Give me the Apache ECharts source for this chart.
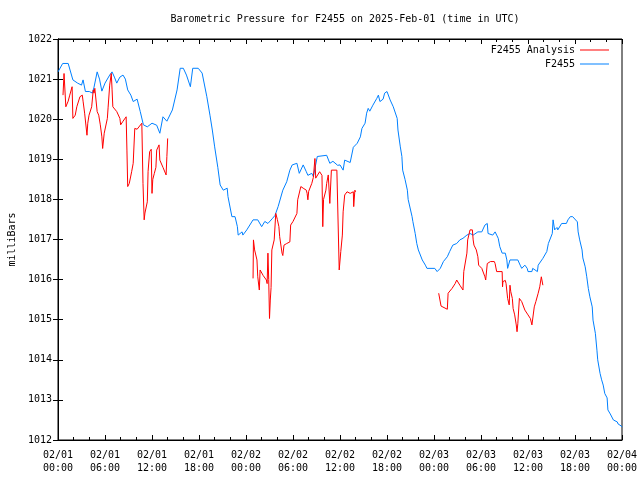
<!DOCTYPE html>
<html>
<head>
<meta charset="utf-8">
<script src="https://cdn.jsdelivr.net/npm/echarts@6/dist/echarts.min.js"></script>
<style>html,body{margin:0;padding:0;background:#fff}#c{width:640px;height:480px}</style>
</head>
<body>
<div id="c"></div>
<script>
// Hours since 2025-02-01 00:00 UTC
const stationHours = [0.0,0.6,1.3,1.9,2.5,3.0,3.2,3.5,4.0,4.4,4.6,5.0,5.3,5.6,6.0,6.6,6.9,7.2,7.5,7.9,8.3,8.6,8.9,9.3,9.6,10.1,10.5,10.9,11.4,12.0,12.6,13.0,13.4,13.9,14.6,15.2,15.6,16.0,16.4,16.9,17.2,17.9,18.4,19.0,19.4,19.7,20.0,20.4,20.7,21.1,21.6,21.7,22.2,22.6,22.9,23.0,23.5,23.6,24.1,24.9,25.5,26.0,26.4,26.8,27.4,27.7,28.1,28.7,29.2,29.6,29.9,30.5,30.8,31.3,31.7,31.9,32.4,32.6,32.8,33.1,34.3,34.7,35.1,35.7,36.0,36.4,36.6,37.3,37.7,38.2,38.6,38.8,39.2,39.4,39.6,39.8,40.2,40.7,40.9,41.1,41.5,41.7,42.0,42.4,42.8,43.3,43.4,43.7,43.9,44.0,44.3,44.6,44.7,45.2,45.3,45.6,45.8,46.0,46.5,46.9,47.1,48.1,48.4,48.8,49.2,49.7,50.0,50.4,50.9,51.3,51.7,52.2,52.6,53.0,53.6,54.1,54.5,54.8,54.9,55.5,55.8,56.0,56.2,56.4,56.7,56.8,57.1,57.3,57.4,57.7,58.7,59.0,59.2,59.6,59.9,60.0,60.5,60.6,60.9,61.2,61.3,61.5,61.9,62.4,62.6,63.1,63.2,63.4,63.7,63.8,64.3,64.9,65.1,65.4,65.6,65.7,66.3,66.4,66.6,66.9,67.0,67.3,67.5,67.7,67.9,68.2,68.3,68.6,68.8,68.9,69.2,69.4,69.6,69.8,70.1,70.2,70.5,70.9,71.4,71.5,71.9,72.0];
const stationPressure = [1021.18,1021.39,1021.39,1020.98,1020.9,1020.85,1020.98,1020.69,1020.69,1020.65,1020.8,1021.18,1021.0,1020.7,1020.9,1021.1,1021.18,1021.05,1020.9,1021.05,1021.1,1021.0,1020.73,1020.6,1020.44,1020.5,1020.19,1019.86,1019.81,1019.9,1019.85,1019.65,1020.06,1019.95,1020.23,1020.73,1021.27,1021.27,1021.1,1020.81,1021.27,1021.27,1021.15,1020.56,1020.1,1019.73,1019.31,1018.8,1018.36,1018.23,1018.28,1018.07,1017.57,1017.57,1017.32,1017.11,1017.19,1017.11,1017.24,1017.49,1017.49,1017.32,1017.45,1017.4,1017.53,1017.6,1017.82,1018.23,1018.44,1018.73,1018.86,1018.9,1018.65,1018.86,1018.69,1018.6,1018.65,1018.57,1018.6,1019.07,1019.1,1018.9,1018.95,1018.85,1018.86,1018.73,1018.98,1018.92,1019.3,1019.4,1019.56,1019.77,1019.9,1020.15,1020.27,1020.2,1020.35,1020.52,1020.6,1020.44,1020.5,1020.65,1020.69,1020.48,1020.31,1020.02,1019.73,1019.31,1019.07,1018.73,1018.5,1018.23,1018.0,1017.57,1017.45,1017.15,1016.9,1016.74,1016.49,1016.36,1016.28,1016.28,1016.2,1016.28,1016.45,1016.57,1016.7,1016.86,1016.9,1016.99,1017.03,1017.11,1017.15,1017.11,1017.19,1017.19,1017.36,1017.4,1017.15,1017.11,1017.19,1017.11,1017.03,1016.82,1016.66,1016.7,1016.66,1016.49,1016.28,1016.49,1016.49,1016.36,1016.28,1016.36,1016.28,1016.2,1016.2,1016.28,1016.24,1016.2,1016.36,1016.4,1016.53,1016.7,1016.9,1017.15,1017.49,1017.24,1017.3,1017.24,1017.4,1017.4,1017.49,1017.57,1017.61,1017.57,1017.44,1017.19,1016.99,1016.74,1016.54,1016.32,1016.07,1015.78,1015.57,1015.32,1014.99,1014.66,1014.24,1014.0,1013.66,1013.5,1013.37,1013.16,1013.05,1012.75,1012.65,1012.5,1012.45,1012.4,1012.35,1012.32];

// Analysis series; null marks a gap between segments
const analysisHours = [0.64,0.77,1.0,1.3,1.5,1.8,1.9,2.2,2.4,2.8,3.1,3.2,3.4,3.7,3.8,3.96,4.3,4.5,4.6,4.7,5.0,5.2,5.4,5.6,5.7,5.9,6.1,6.3,6.4,6.6,6.8,6.9,7.0,7.5,7.7,7.9,8.0,8.3,8.7,8.8,8.9,9.1,9.4,9.6,9.8,10.1,10.7,10.85,11.0,11.1,11.4,11.5,11.7,11.9,12.0,12.1,12.3,12.5,12.6,12.9,13.0,13.4,13.8,13.9,14.0,
  19.0,
  24.9,24.95,25.1,25.4,25.5,25.7,25.8,26.2,26.6,26.7,26.8,26.9,27.0,27.1,27.2,27.3,27.6,27.8,28.0,28.2,28.3,28.6,28.7,28.85,29.2,29.6,29.7,30.0,30.5,30.6,31.0,31.3,31.7,31.8,31.9,32.0,32.4,32.6,32.8,32.9,33.4,33.7,33.8,33.9,34.2,34.3,34.5,34.7,34.9,35.6,35.7,35.9,36.1,36.3,36.4,36.6,36.9,37.3,37.7,37.75,37.9,38.0,
  43.0,
  48.6,48.9,49.1,49.7,49.8,50.3,50.7,50.9,51.3,51.7,51.8,52.2,52.3,52.6,52.9,53.0,53.1,53.4,53.6,53.7,54.1,54.3,54.5,54.6,54.8,55.2,55.7,55.8,56.0,56.7,56.75,56.8,57.1,57.2,57.4,57.6,57.7,57.8,58.0,58.1,58.3,58.5,58.6,58.7,58.9,59.2,59.6,60.0,60.3,60.5,60.6,60.8,61.0,61.3,61.5,61.7,61.8,61.9];
const analysisPressure = [1020.6,1021.14,1020.31,1020.45,1020.6,1020.81,1020.02,1020.1,1020.31,1020.56,1020.6,1020.45,1020.15,1019.6,1019.9,1020.1,1020.31,1020.73,1020.65,1020.77,1020.19,1020.1,1019.86,1019.56,1019.27,1019.65,1019.69,1020.02,1020.3,1020.85,1021.14,1020.75,1020.31,1020.19,1020.15,1020.02,1019.86,1019.95,1020.06,1019.23,1018.32,1018.4,1018.69,1018.9,1019.77,1019.75,1019.9,1018.4,1017.49,1017.66,1017.94,1018.7,1019.19,1019.25,1018.15,1018.5,1018.65,1018.8,1019.23,1019.36,1018.98,1018.8,1018.61,1019.07,1019.52,
  null,
  1016.03,1016.99,1016.74,1016.49,1016.07,1015.74,1016.24,1016.1,1015.99,1015.9,1016.66,1016.0,1015.03,1015.49,1015.8,1016.74,1016.99,1017.65,1017.5,1017.32,1017.07,1016.66,1016.6,1016.86,1016.9,1016.94,1017.36,1017.45,1017.65,1017.99,1018.32,1018.28,1018.23,1018.15,1017.99,1018.2,1018.4,1018.55,1019.02,1018.53,1018.69,1018.6,1017.32,1018.0,1018.23,1018.4,1018.61,1017.9,1018.73,1018.73,1018.7,1016.24,1016.7,1017.11,1017.69,1018.11,1018.19,1018.15,1018.19,1017.82,1018.23,1018.19,
  null,
  1015.66,1015.34,1015.3,1015.26,1015.66,1015.78,1015.9,1015.99,1015.86,1015.74,1016.2,1016.66,1016.99,1017.24,1017.24,1016.99,1016.86,1016.74,1016.57,1016.36,1016.28,1016.24,1016.07,1015.99,1016.4,1016.45,1016.45,1016.4,1016.2,1016.2,1015.82,1015.95,1015.98,1015.9,1015.53,1015.37,1015.86,1015.7,1015.53,1015.28,1015.12,1014.87,1014.7,1014.9,1015.53,1015.45,1015.24,1015.12,1015.03,1014.87,1014.87,1015.32,1015.45,1015.66,1015.82,1016.07,1016.03,1015.86];

const tickDates = ['02/01','02/01','02/01','02/01','02/02','02/02','02/02','02/02','02/03','02/03','02/03','02/03','02/04'];
const tickTimes = ['00:00','06:00','12:00','18:00','00:00','06:00','12:00','18:00','00:00','06:00','12:00','18:00','00:00'];
const yTicks = [1012,1013,1014,1015,1016,1017,1018,1019,1020,1021,1022];

const FONT = 'DejaVu Sans Mono';
const stationData = stationHours.map((h, i) => [h, stationPressure[i]]);
const analysisData = analysisHours.map((h, i) => [h, analysisPressure[i] === null ? '-' : analysisPressure[i]]);

const tickStyle = {show: true, inside: true, length: 5, lineStyle: {color: '#000', width: 1}};
const minorStyle = {show: true, splitNumber: 3, length: 3, lineStyle: {color: '#000', width: 1}};

const chart = echarts.init(document.getElementById('c'), null, {renderer: 'canvas'});
chart.setOption({
  animation: false,
  backgroundColor: '#fff',
  title: {
    text: 'Barometric Pressure for F2455 on 2025-Feb-01 (time in UTC)',
    left: 340, top: 9, textAlign: 'center',
    textStyle: {fontFamily: FONT, fontSize: 10, fontWeight: 'normal', color: '#000'}
  },
  legend: {
    orient: 'vertical', right: 26, top: 40, align: 'right',
    itemWidth: 29, itemHeight: 1, itemGap: 4,
    icon: 'rect',
    textStyle: {fontFamily: FONT, fontSize: 10, color: '#000', lineHeight: 10},
    data: ['F2455 Analysis', 'F2455']
  },
  grid: {left: 58, right: 18, top: 39, bottom: 40, outerBoundsMode: 'none', containLabel: false, show: true, borderColor: '#000', borderWidth: 1, backgroundColor: 'transparent'},
  xAxis: [{
    type: 'value', min: 0, max: 72, interval: 6, position: 'bottom',
    axisLine: {show: true, lineStyle: {color: '#000'}},
    axisTick: tickStyle, minorTick: minorStyle,
    splitLine: {show: false},
    axisLabel: {
      fontFamily: FONT, fontSize: 10, color: '#000', margin: 9, lineHeight: 13,
      formatter: v => { const i = Math.round(v / 6); return tickDates[i] + '\n' + tickTimes[i]; }
    }
  }, {
    type: 'value', min: 0, max: 72, interval: 6, position: 'top',
    axisLine: {show: true, lineStyle: {color: '#000'}},
    axisTick: tickStyle, minorTick: minorStyle,
    splitLine: {show: false}, axisLabel: {show: false}
  }],
  yAxis: [{
    type: 'value', min: yTicks[0], max: yTicks[yTicks.length - 1], interval: 1, position: 'left',
    name: 'milliBars', nameLocation: 'middle', nameGap: 40, nameRotate: 90,
    nameTextStyle: {fontFamily: FONT, fontSize: 10, color: '#000'},
    axisLine: {show: true, lineStyle: {color: '#000'}},
    axisTick: tickStyle,
    splitLine: {show: false},
    axisLabel: {fontFamily: FONT, fontSize: 10, color: '#000', margin: 6, formatter: v => String(v)}
  }, {
    type: 'value', min: yTicks[0], max: yTicks[yTicks.length - 1], interval: 1, position: 'right',
    axisLine: {show: true, lineStyle: {color: '#000'}},
    axisTick: tickStyle,
    splitLine: {show: false}, axisLabel: {show: false}
  }],
  series: [{
    name: 'F2455 Analysis', type: 'line', data: analysisData,
    xAxisIndex: 0, yAxisIndex: 0, showSymbol: false, connectNulls: false,
    color: '#ff0000', lineStyle: {color: '#ff0000', width: 1}, z: 3
  }, {
    name: 'F2455', type: 'line', data: stationData,
    xAxisIndex: 0, yAxisIndex: 0, showSymbol: false,
    color: '#0080ff', lineStyle: {color: '#0080ff', width: 1}, z: 2
  }]
});
</script>
</body>
</html>
